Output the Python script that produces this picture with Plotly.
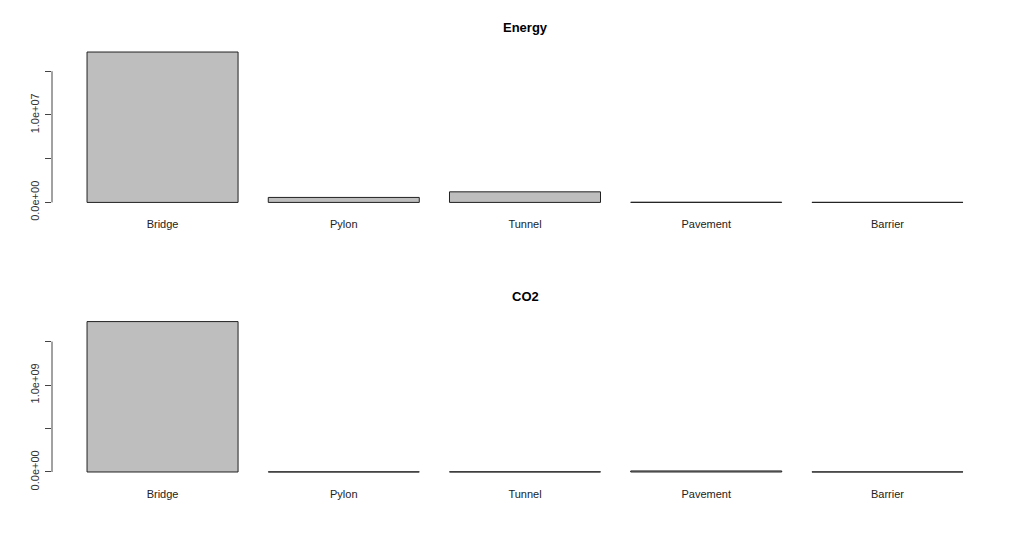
import plotly.graph_objects as go
from plotly.subplots import make_subplots

# Dados
categorias = ['Bridge', 'Pylon', 'Tunnel', 'Pavement', 'Barrier']
energia = [1.72e7, 5.7e5, 1.21e6, 2.0e4, 1.0e4]
co2 = [1.73e9, 1.5e6, 2.0e6, 1.2e7, 1.0e6]

ticks_energia = [0, 5e6, 1e7, 1.5e7]
rotulos_energia = ['0.0e+00', '', '1.0e+07', '']
ticks_co2 = [0, 5e8, 1e9, 1.5e9]
rotulos_co2 = ['0.0e+00', '', '1.0e+09', '']

fonte = 'Liberation Sans, Arial, sans-serif'

fig = make_subplots(rows=2, cols=1, vertical_spacing=0.248)

paineis = [
    (energia, ticks_energia, rotulos_energia, 'Energy'),
    (co2, ticks_co2, rotulos_co2, 'CO2'),
]

for i, (valores, ticks, rotulos, titulo) in enumerate(paineis, start=1):
    fig.add_trace(go.Bar(
        x=categorias, y=valores,
        marker=dict(color='#bebebe', line=dict(color='#222222', width=1)),
        showlegend=False, hoverinfo='x+y',
    ), row=i, col=1)

    topo = max(valores)
    fig.update_yaxes(
        range=[-0.04 * topo, 1.04 * topo],
        tickvals=ticks, ticktext=rotulos, tickangle=-90,
        ticks='outside', ticklen=6, tickcolor='#444', tickwidth=1,
        ticklabelstandoff=2,
        showgrid=False, zeroline=False, showline=False,
        tickfont=dict(family=fonte, size=11, color='#333'),
        row=i, col=1,
    )
    fig.update_xaxes(
        range=[-0.61, 4.61],
        showgrid=False, zeroline=False, showline=False, ticks='',
        ticklabelstandoff=8,
        tickfont=dict(family=fonte, size=11, color='#222'),
        row=i, col=1,
    )

    # linha do eixo y só entre o primeiro e o último tick (estilo R)
    yref = 'y' if i == 1 else 'y2'
    fig.add_shape(type='line', xref='x domain' if i == 1 else 'x2 domain', yref=yref,
                  x0=0, x1=0, y0=ticks[0], y1=ticks[-1],
                  line=dict(color='#444', width=1))

    fig.add_annotation(text='<b>' + titulo + '</b>', xref='x domain' if i == 1 else 'x2 domain',
                       yref='y domain' if i == 1 else 'y2 domain', x=0.5, y=1, yshift=19,
                       showarrow=False, yanchor='middle',
                       font=dict(family=fonte, size=13, color='black'))

# a página tem 8px de margem no body, por isso a figura é 8px menor
fig.update_layout(
    width=1016, height=531,
    margin=dict(l=44, r=26, t=38, b=61),
    bargap=0.1667,
    plot_bgcolor='white', paper_bgcolor='white',
)

fig.write_html('out.html')
